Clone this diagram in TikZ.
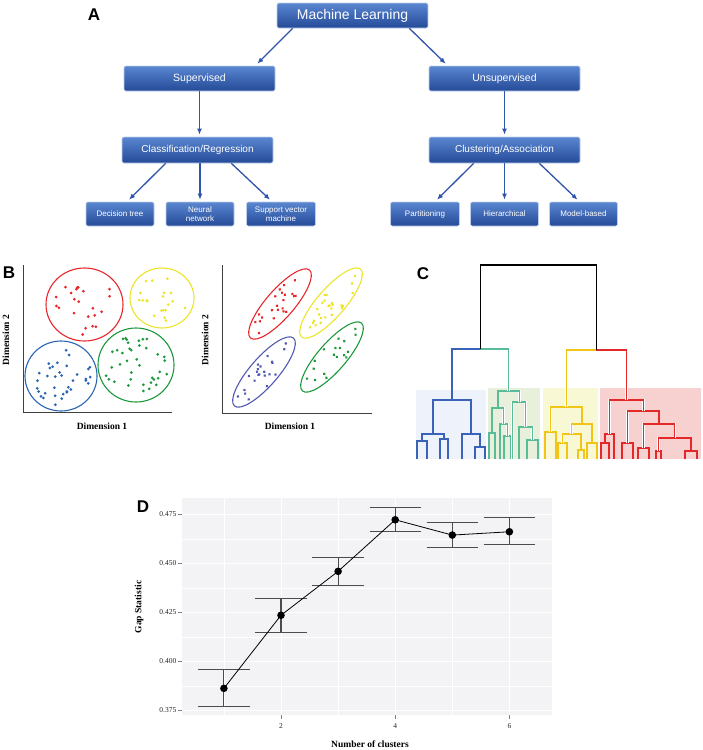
\documentclass[tikz,border=0pt]{standalone}
\usepackage{fontspec}
\setmainfont{Liberation Serif}
\setsansfont{Liberation Sans}
\usetikzlibrary{arrows.meta,calc,positioning}

\definecolor{boxtop}{RGB}{90,134,208}
\definecolor{boxbot}{RGB}{36,74,152}
\definecolor{flowblue}{RGB}{48,84,170}
\definecolor{dred}{RGB}{232,38,42}
\definecolor{dyellow}{RGB}{236,228,40}
\definecolor{dblue}{RGB}{40,100,178}
\definecolor{dblueb}{RGB}{80,88,176}
\definecolor{dgreen}{RGB}{28,152,60}
\definecolor{tblue}{RGB}{58,98,184}
\definecolor{tteal}{RGB}{88,188,152}
\definecolor{tyellow}{RGB}{242,196,24}
\definecolor{tred}{RGB}{228,40,40}
\definecolor{bgblue}{RGB}{238,242,250}
\definecolor{bggreen}{RGB}{232,240,220}
\definecolor{bgyellow}{RGB}{248,248,212}
\definecolor{bgred}{RGB}{247,208,208}
\definecolor{panelgray}{RGB}{243,243,246}

% cx, cy, x radius, y radius, angle, dots, colour
\newcommand{\clusterdots}[7]{%
  \begin{scope}[shift={(#1,#2)}, rotate=#5, #7]
    \foreach \i in {1,...,#6} {
      \pgfmathsetmacro{\dotr}{0.85*sqrt(rnd)}
      \pgfmathsetmacro{\dota}{360*rnd}
      \fill ({\dotr*#3*cos(\dota)}, {\dotr*#4*sin(\dota)}) circle (1.5pt);
    }
    \draw[line width=1.1pt] (0,0) ellipse [x radius=#3, y radius=#4];
  \end{scope}}

\begin{document}
\begin{tikzpicture}[x=1pt, y=-1pt,
    mlbox/.style={rectangle, rounded corners=2pt, top color=boxtop, bottom color=boxbot,
      draw=boxtop!40!white, line width=0.6pt, text=white, inner sep=0pt, align=center},
    flow/.style={draw=flowblue, line width=1.3pt, -{Latex[length=6pt,width=5pt]}},
    panel/.style={font=\sffamily\bfseries\fontsize{17}{17}\selectfont},
    axlabel/.style={font=\bfseries\fontsize{9.5}{10}\selectfont},
    ticklabel/.style={black!85, font=\fontsize{7.5}{7.5}\selectfont},
    dendro/.style={line width=1.3pt, preaction={draw=white, line width=2.6pt}},
    ebar/.style={draw=black!70, line width=1.1pt}]
    \useasboundingbox (0,0) rectangle (702,750);

    % A
    \node[panel] (la) at (94,15) {A};
    \node[mlbox, minimum width=151pt, minimum height=25pt, font=\sffamily\fontsize{14}{14}\selectfont] (ml) at (352.5,15.5) {Machine Learning};

    \node[mlbox, minimum width=151pt, minimum height=25pt, font=\sffamily\fontsize{10.5}{11}\selectfont] (sup) at (199.5,78.5) {Supervised};
    \node[mlbox, minimum width=151pt, minimum height=25pt, font=\sffamily\fontsize{10.5}{11}\selectfont] (unsup) at (504.5,78.5) {Unsupervised};

    \node[mlbox, minimum width=151pt, minimum height=26pt, font=\sffamily\fontsize{10}{11}\selectfont] (cls) at (197.5,150) {Classification/Regression};
    \node[mlbox, minimum width=151pt, minimum height=26pt, font=\sffamily\fontsize{10}{11}\selectfont] (clu) at (504.5,150) {Clustering/Association};

    \node[mlbox, minimum width=68pt, minimum height=24pt, font=\sffamily\fontsize{8}{8.5}\selectfont] (dt) at (120,214) {Decision tree};
    \node[mlbox, minimum width=68pt, minimum height=24pt, font=\sffamily\fontsize{8}{8.5}\selectfont] (nn) at (200,214) {Neural\\network};
    \node[mlbox, minimum width=69pt, minimum height=24pt, font=\sffamily\fontsize{8}{8.5}\selectfont] (svm) at (281,214) {Support vector\\machine};
    \node[mlbox, minimum width=69pt, minimum height=24pt, font=\sffamily\fontsize{8}{8.5}\selectfont] (part) at (425,214) {Partitioning};
    \node[mlbox, minimum width=68pt, minimum height=24pt, font=\sffamily\fontsize{8}{8.5}\selectfont] (hier) at (504.5,214) {Hierarchical};
    \node[mlbox, minimum width=68pt, minimum height=24pt, font=\sffamily\fontsize{8}{8.5}\selectfont] (model) at (583.5,214) {Model-based};

    \draw[flow] ([xshift=16pt]ml.south west) -- ([xshift=-18pt,yshift=2pt]sup.north east);
    \draw[flow] ([xshift=-19pt]ml.south east) -- ([xshift=17pt,yshift=2pt]unsup.north west);
    \draw[flow] (sup.south) -- ([yshift=2pt]sup.south |- cls.north);
    \draw[flow] (unsup.south) -- ([yshift=2pt]unsup.south |- clu.north);

    \draw[flow] ([xshift=44pt]cls.south west) -- ([xshift=9pt,yshift=2pt]dt.north);
    \draw[flow] (nn.north |- cls.south) -- ([yshift=2pt]nn.north);
    \draw[flow] ([xshift=-42pt]cls.south east) -- ([xshift=-11pt,yshift=2pt]svm.north);
    \draw[flow] ([xshift=45pt]clu.south west) -- ([xshift=12pt,yshift=2pt]part.north);
    \draw[flow] (clu.south) -- ([yshift=2pt]hier.north);
    \draw[flow] ([xshift=-41pt]clu.south east) -- ([xshift=-6pt,yshift=2pt]model.north);

    % B
    \node[panel] (lb) at (9,273) {B};
    \pgfmathsetseed{11}
    \clusterdots{84.5}{304.5}{38.5}{36.5}{0}{22}{dred}
    \clusterdots{162}{298}{32}{30}{0}{20}{dyellow}
    \clusterdots{61}{376}{36}{35}{0}{35}{dblue}
    \clusterdots{136}{365}{38}{37}{0}{38}{dgreen}
    \draw[black!75, line width=0.8pt] (23,265) -- (23,412) -- (172,412);
    \node[axlabel] (bx1) at (102,426) {Dimension 1};
    \node[axlabel, rotate=90] (by1) at (6,340) {Dimension 2};

    \clusterdots{280}{304}{45}{14}{49}{22}{dred}
    \clusterdots{331}{303}{45}{14}{49}{25}{dyellow}
    \clusterdots{264}{372}{45}{14}{49}{22}{dblueb}
    \clusterdots{332}{357}{45}{14}{49}{18}{dgreen}
    \draw[black!75, line width=0.8pt] (222,265) -- (222,413) -- (372,413);
    \node[axlabel] (bx2) at (290,426) {Dimension 1};
    \node[axlabel, rotate=90] (by2) at (205,340) {Dimension 2};

    % C
    \node[panel] (lc) at (423,274) {C};
    \fill[bgblue] (416,390) rectangle (486,459);
    \fill[bggreen] (488,388) rectangle (540,459);
    \fill[bgyellow] (543,388) rectangle (598,459);
    \fill[bgred] (600,388) rectangle (701,459);

    \draw[dendro, tblue] (417,459) |- (427,441) -- (427,459);
    \draw[dendro, tblue] (440,459) |- (448,439) -- (448,459);
    \draw[dendro, tblue] (422,441) |- (444,434) -- (444,439);
    \draw[dendro, tblue] (475,459) |- (485,447) -- (485,459);
    \draw[dendro, tblue] (462,459) |- (480,434) -- (480,447);
    \draw[dendro, tblue] (433,434) |- (471,400) -- (471,434);
    \draw[dendro, tblue] (452,400) -- (452,349) -- (480.3,349);

    \draw[dendro, tteal] (489,459) |- (495,433) -- (495,459);
    \draw[dendro, tteal] (504,459) |- (511,436) -- (511,459);
    \draw[dendro, tteal] (500,459) |- (507.5,424) -- (507.5,436);
    \draw[dendro, tteal] (492,433) |- (503.7,408) -- (503.7,424);
    \draw[dendro, tteal] (527,459) |- (538,440) -- (538,459);
    \draw[dendro, tteal] (519,459) |- (532.5,427) -- (532.5,440);
    \draw[dendro, tteal] (512.7,459) |- (525.7,402) -- (525.7,427);
    \draw[dendro, tteal] (498,408) |- (519.2,391) -- (519.2,402);
    \draw[dendro, tteal] (508.6,391) -- (508.6,349) -- (480.3,349);

    \draw[dendro, tyellow] (545,459) |- (556,432) -- (556,459);
    \draw[dendro, tyellow] (558,459) |- (567,443) -- (567,459);
    \draw[dendro, tyellow] (578,459) |- (584,450) -- (584,459);
    \draw[dendro, tyellow] (562.5,443) |- (581,434) -- (581,450);
    \draw[dendro, tyellow] (587,459) |- (597,443) -- (597,459);
    \draw[dendro, tyellow] (571.7,434) |- (592,424) -- (592,443);
    \draw[dendro, tyellow] (550.5,432) |- (581.9,407) -- (581.9,424);
    \draw[dendro, tyellow] (566.2,407) -- (566.2,350) -- (596.3,350);

    \draw[dendro, tred] (601,459) |- (609,443) -- (609,459);
    \draw[dendro, tred] (605,443) |- (614,434) -- (614,459);
    \draw[dendro, tred] (622,459) |- (633,443) -- (633,459);
    \draw[dendro, tred] (638,459) |- (649,448) -- (649,459);
    \draw[dendro, tred] (656,459) |- (661,451) -- (661,459);
    \draw[dendro, tred] (685,459) |- (697,451) -- (697,459);
    \draw[dendro, tred] (658.5,451) |- (691,438) -- (691,451);
    \draw[dendro, tred] (643.5,448) |- (674.8,424) -- (674.8,438);
    \draw[dendro, tred] (627.5,443) |- (659.1,411) -- (659.1,424);
    \draw[dendro, tred] (609.5,434) |- (643.3,400) -- (643.3,411);
    \draw[dendro, tred] (626.4,400) -- (626.4,350) -- (596.3,350);

    \draw[black, line width=1.3pt] (480.3,349) |- (596.3,265) -- (596.3,350);

    % D
    \node[panel] (ld) at (143,507) {D};
    \begin{scope}[shift={(166.8,1445.3)}, x=57.1pt, y=1960pt]
        \fill[panelgray] (0.266,0.3726) rectangle (6.75,0.4833);
        \foreach \v in {0.3875,0.4125,0.4375,0.4625}
            \draw[white, line width=0.5pt] (0.266,\v) -- (6.75,\v);
        \foreach \k in {1,3,5}
            \draw[white, line width=0.5pt] (\k,0.3726) -- (\k,0.4833);
        \foreach \v in {0.375,0.400,0.425,0.450,0.475} {
            \draw[white, line width=1pt] (0.266,\v) -- (6.75,\v);
            \draw[black!50] (0.266,\v) -- ++(-4pt,0) node[left, inner sep=1.5pt, ticklabel] {\v};
        }
        \foreach \k in {2,4,6} {
            \draw[white, line width=1pt] (\k,0.3726) -- (\k,0.4833);
            \draw[black!50] (\k,0.3726) -- ++(0,-4pt) node[below, inner sep=4.5pt, ticklabel] {\k};
        }
        \foreach \k/\lo/\hi in {1/0.3768/0.3956, 2/0.4148/0.4321, 3/0.4389/0.4529, 4/0.4661/0.4786, 5/0.4580/0.4709, 6/0.4595/0.4733} {
            \draw[ebar] (\k,\lo) -- (\k,\hi);
            \draw[ebar] ({\k-0.45},\lo) -- ({\k+0.45},\lo);
            \draw[ebar] ({\k-0.45},\hi) -- ({\k+0.45},\hi);
        }
        \draw[black, line width=0.8pt] (1,0.3862) -- (2,0.4235) -- (3,0.4459) -- (4,0.4722) -- (5,0.4644) -- (6,0.4661);
        \foreach \k/\v in {1/0.3862, 2/0.4235, 3/0.4459, 4/0.4722, 5/0.4644, 6/0.4661}
            \fill[black] (\k,\v) circle (3.8pt);
    \end{scope}
    \node[axlabel] (dx) at (370,744) {Number of clusters};
    \node[axlabel, rotate=90] (dy) at (139,607) {Gap Statistic};
\end{tikzpicture}
\end{document}
